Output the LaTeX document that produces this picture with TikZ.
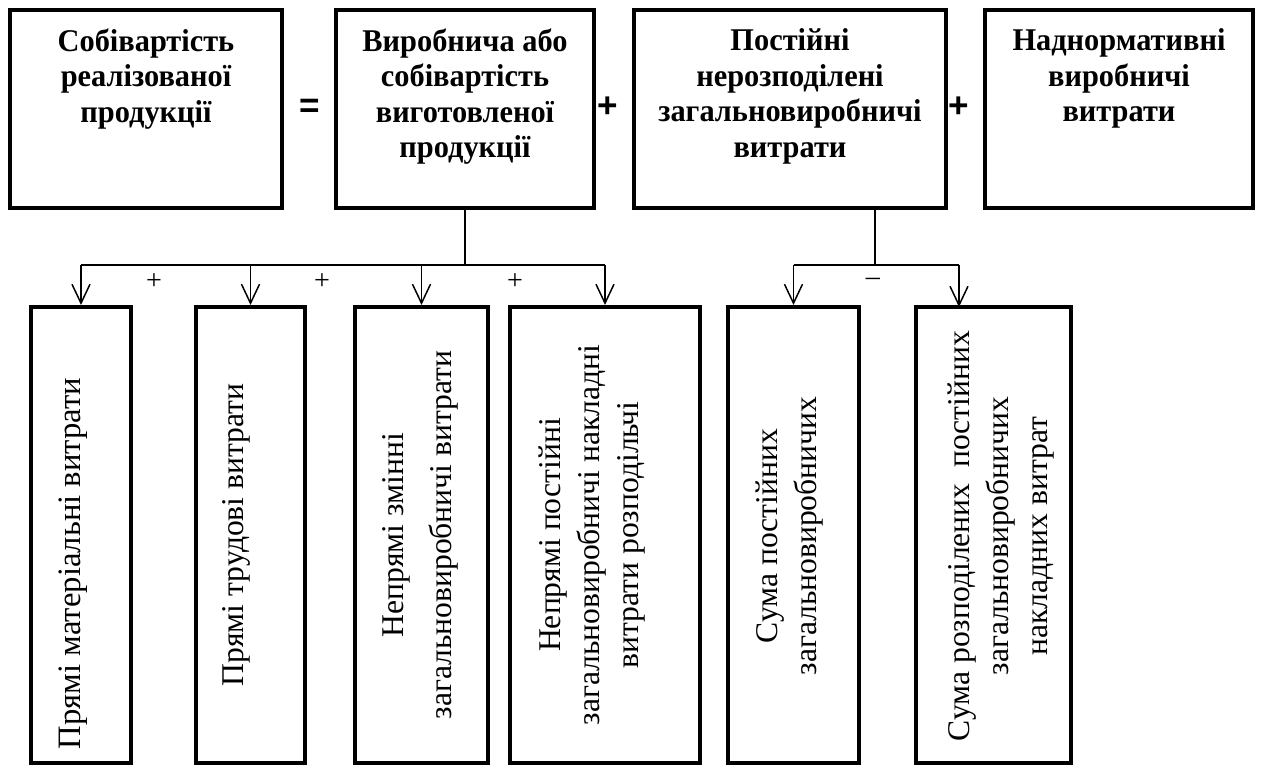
\documentclass[tikz,border=0pt]{standalone}
\usepackage{fontspec}
\setmainfont{Liberation Serif}
\newfontfamily\topfont[FakeStretch=0.96]{Liberation Serif}
\newfontfamily\signfont{Liberation Sans}
\usepackage{tikz}
\usetikzlibrary{arrows.meta}
\tikzset{
every picture/.style={
line width=0.85pt
}}
\tikzset{
  topbox/.style={draw, line width=2.3pt, minimum width=#1, minimum height=3.96cm, inner sep=0pt},
  botbox/.style={draw, line width=2.3pt, minimum width=#1, minimum height=9.12cm, inner sep=0pt},
  toptext/.style={anchor=north, align=center, inner sep=0pt, font=\topfont\fontsize{18}{20.2}\selectfont\bfseries},
  bottext/.style={rotate=90, align=center, inner sep=0pt, font=\fontsize{18}{22.2}\selectfont},
  bigsign/.style={font=\signfont\fontsize{20}{20}\selectfont\bfseries},
  smallsign/.style={font=\fontsize{16}{16}\selectfont},
  arr/.style={-{Straight Barb[length=0.38cm,width=0.36cm]}}
}

\begin{document}
\begin{tikzpicture}
  \useasboundingbox (0,0) rectangle (25.3,-15.3);

  \node[topbox=5.44cm] (sob) at (2.92,-2.18) {};
  \node[topbox=5.16cm] (vyr) at (9.30,-2.18) {};
  \node[topbox=6.24cm] (post) at (15.80,-2.18) {};
  \node[topbox=5.36cm] (nadn) at (22.38,-2.18) {};

  \node[toptext] (sobt) at ([yshift=-0.40cm]sob.north) {Собівартість\\реалізованої\\продукції};
  \node[toptext] (vyrt) at ([yshift=-0.40cm]vyr.north) {Виробнича або\\собівартість\\виготовленої\\продукції};
  \node[toptext] (postt) at ([yshift=-0.40cm]post.north) {Постійні\\нерозподілені\\загальновиробничі\\витрати};
  \node[toptext] (nadnt) at ([yshift=-0.40cm]nadn.north) {Наднормативні\\виробничі\\витрати};

  \node[bigsign] (eq) at (6.20,-2.16) {=};
  \node[bigsign] (pl1) at (12.16,-2.14) {+};
  \node[bigsign] (pl2) at (19.18,-2.14) {+};

  \node[botbox=2.00cm] (mat) at (1.62,-10.70) {};
  \node[botbox=2.18cm] (trud) at (5.01,-10.70) {};
  \node[botbox=2.66cm] (zmin) at (8.43,-10.70) {};
  \node[botbox=3.80cm] (npost) at (12.10,-10.70) {};
  \node[botbox=2.62cm] (suma) at (15.87,-10.70) {};
  \node[botbox=3.10cm] (rozp) at (19.87,-10.70) {};

  \node[bottext, font=\fontsize{18.6}{22}\selectfont] (matt) at (1.46,-11.27) {Прямі матеріальні витрати};
  \node[bottext] (trudt) at (4.72,-10.70) {Прямі трудові витрати};
  \node[bottext] (zmint) at (8.40,-10.70) {Непрямі змінні\\[5pt]загальновиробничі витрати};
  \node[bottext] (npostt) at (11.84,-10.70) {Непрямі постійні\\загальновиробничі накладні\\витрати розподільчі};
  \node[bottext] (sumat) at (15.80,-10.72) {Сума постійних\\загальновиробничих};
  \node[bottext] (rozpt) at (20.02,-10.72) {Сума розподілених\ \ постійних\\загальновиробничих\\накладних витрат};

  \coordinate (bus) at (0,-5.30);
  \coordinate (stem) at (17.50,-4.16);
  \coordinate (rozpin) at (19.18,-6.14);

  \draw (vyr.south) -- (vyr.south |- bus);
  \draw (mat.north |- bus) -- (npost.north |- bus);
  \draw[arr] (mat.north |- bus) -- (mat.north);
  \draw[arr] (trud.north |- bus) -- (trud.north);
  \draw[arr] (zmin.north |- bus) -- (zmin.north);
  \draw[arr] (npost.north |- bus) -- (npost.north);

  \draw (stem) -- (stem |- bus);
  \draw (suma.north |- bus) -- (rozpin |- bus);
  \draw[arr] (suma.north |- bus) -- (suma.north);
  \draw[arr] (rozpin |- bus) -- (rozpin);

  \node[smallsign] (p1) at (3.08,-5.64) {+};
  \node[smallsign] (p2) at (6.44,-5.64) {+};
  \node[smallsign] (p3) at (10.30,-5.64) {+};
  \node[smallsign] (m1) at (17.46,-5.64) {–};
\end{tikzpicture}
\end{document}
